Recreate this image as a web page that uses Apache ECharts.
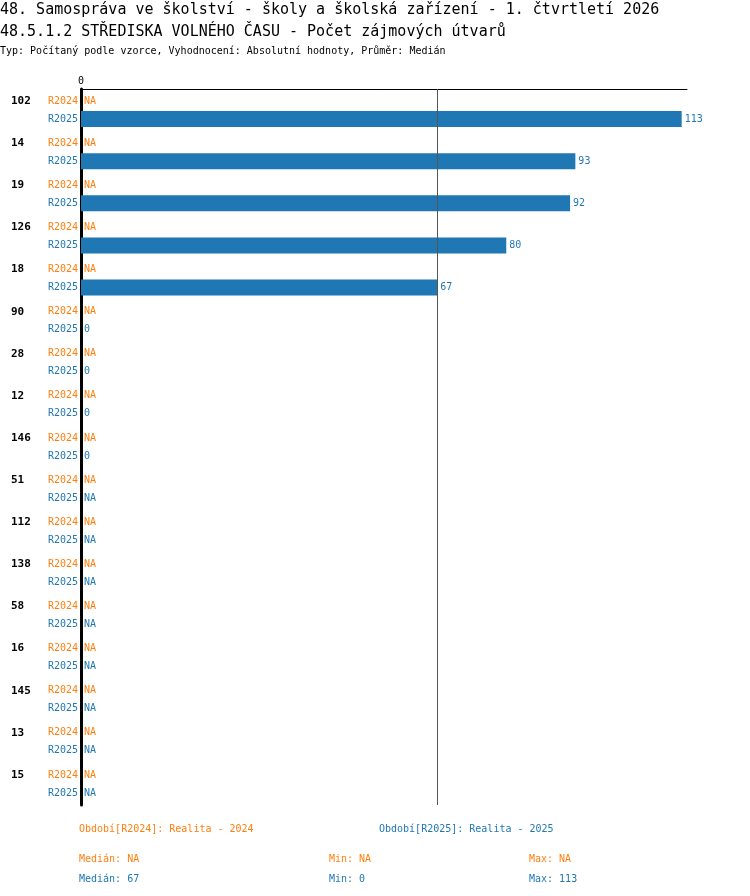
<!DOCTYPE html>
<html>
<head>
<meta charset="utf-8">
<script src="https://cdn.jsdelivr.net/npm/echarts@6/dist/echarts.min.js"></script>
<style>
  html, body { margin: 0; padding: 0; background: #fff; }
  #chart { width: 750px; height: 896px; }
</style>
</head>
<body>
<div id="chart"></div>
<script>
const categories = ['102', '14', '19', '126', '18', '90', '28', '12', '146', '51', '112', '138', '58', '16', '145', '13', '15'];
const r2024 = [null, null, null, null, null, null, null, null, null, null, null, null, null, null, null, null, null];
const r2025 = [113, 93, 92, 80, 67, 0, 0, 0, 0, null, null, null, null, null, null, null, null];
const periods = ['R2024', 'R2025'];
const periodNames = ['Období[R2024]: Realita - 2024', 'Období[R2025]: Realita - 2025'];

const ORANGE = '#ff7f0e';
const BLUE = '#1f77b4';
const FONT = '"DejaVu Sans Mono", "Liberation Mono", monospace';

function stats(arr) {
  const vals = arr.filter(v => v != null).sort((a, b) => a - b);
  if (!vals.length) return { med: 'NA', min: 'NA', max: 'NA' };
  const n = vals.length;
  const med = n % 2 ? vals[(n - 1) / 2] : (vals[n / 2 - 1] + vals[n / 2]) / 2;
  return { med: med, min: vals[0], max: vals[n - 1] };
}
const s24 = stats(r2024);
const s25 = stats(r2025);

const chart = echarts.init(document.getElementById('chart'));

function text(t, left, top, color, size) {
  return {
    text: t, left: left, top: top, padding: 0,
    textStyle: { fontFamily: FONT, fontSize: size, fontWeight: 'normal', color: color }
  };
}

function barSeries(name, values, color) {
  return {
    name: name,
    type: 'bar',
    barWidth: 16,
    barGap: '12.5%',
    itemStyle: { color: color },
    label: {
      show: true,
      position: 'right',
      distance: 3,
      fontFamily: FONT,
      fontSize: 10,
      color: color,
      formatter: p => values[p.dataIndex] == null ? 'NA' : String(values[p.dataIndex])
    },
    data: values.map(v => v == null ? 0 : v)
  };
}

const s2025 = barSeries('R2025', r2025, BLUE);
// median line of R2025
s2025.markLine = {
  silent: true,
  symbol: 'none',
  label: { show: false },
  lineStyle: { color: '#555', width: 1, type: 'solid' },
  data: [{ xAxis: s25.med }]
};

const option = {
  backgroundColor: '#fff',
  animation: false,
  title: [
    text('48. Samospráva ve školství - školy a školská zařízení - 1. čtvrtletí 2026', 0, 3, '#000', 15),
    text('48.5.1.2 STŘEDISKA VOLNÉHO ČASU - Počet zájmových útvarů', 0, 25, '#000', 15),
    text('Typ: Počítaný podle vzorce, Vyhodnocení: Absolutní hodnoty, Průměr: Medián', 0, 46, '#000', 10),
    text(periodNames[0], 79, 824, ORANGE, 10),
    text(periodNames[1], 379, 824, BLUE, 10),
    text('Medián: ' + s24.med, 79, 854, ORANGE, 10),
    text('Min: ' + s24.min, 329, 854, ORANGE, 10),
    text('Max: ' + s24.max, 529, 854, ORANGE, 10),
    text('Medián: ' + s25.med, 79, 874, BLUE, 10),
    text('Min: ' + s25.min, 329, 874, BLUE, 10),
    text('Max: ' + s25.max, 529, 874, BLUE, 10)
  ],
  grid: { left: 81, top: 89, width: 606, height: 716 },
  xAxis: {
    type: 'value',
    position: 'top',
    min: 0,
    max: 114,
    interval: 114,
    axisLine: { show: true, lineStyle: { color: '#000', width: 1 } },
    axisTick: { show: false },
    splitLine: { show: false },
    axisLabel: {
      fontFamily: FONT, fontSize: 10, color: '#000', margin: 3,
      formatter: v => v === 0 ? '0' : ''
    }
  },
  yAxis: {
    type: 'category',
    inverse: true,
    data: categories,
    axisLine: { show: true, lineStyle: { color: '#000', width: 3 } },
    axisTick: { show: false },
    axisLabel: {
      margin: 3,
      formatter: c => '{n|' + c + '}{a|' + periods[0] + '}\n{n| }{b|' + periods[1] + '}',
      rich: {
        n: { width: 37, align: 'left', fontFamily: FONT, fontSize: 11, fontWeight: 'bold', color: '#000', lineHeight: 18 },
        a: { fontFamily: FONT, fontSize: 10, color: ORANGE, lineHeight: 18 },
        b: { fontFamily: FONT, fontSize: 10, color: BLUE, lineHeight: 18 }
      }
    }
  },
  series: [barSeries('R2024', r2024, ORANGE), s2025]
};

chart.setOption(option);
</script>
</body>
</html>
